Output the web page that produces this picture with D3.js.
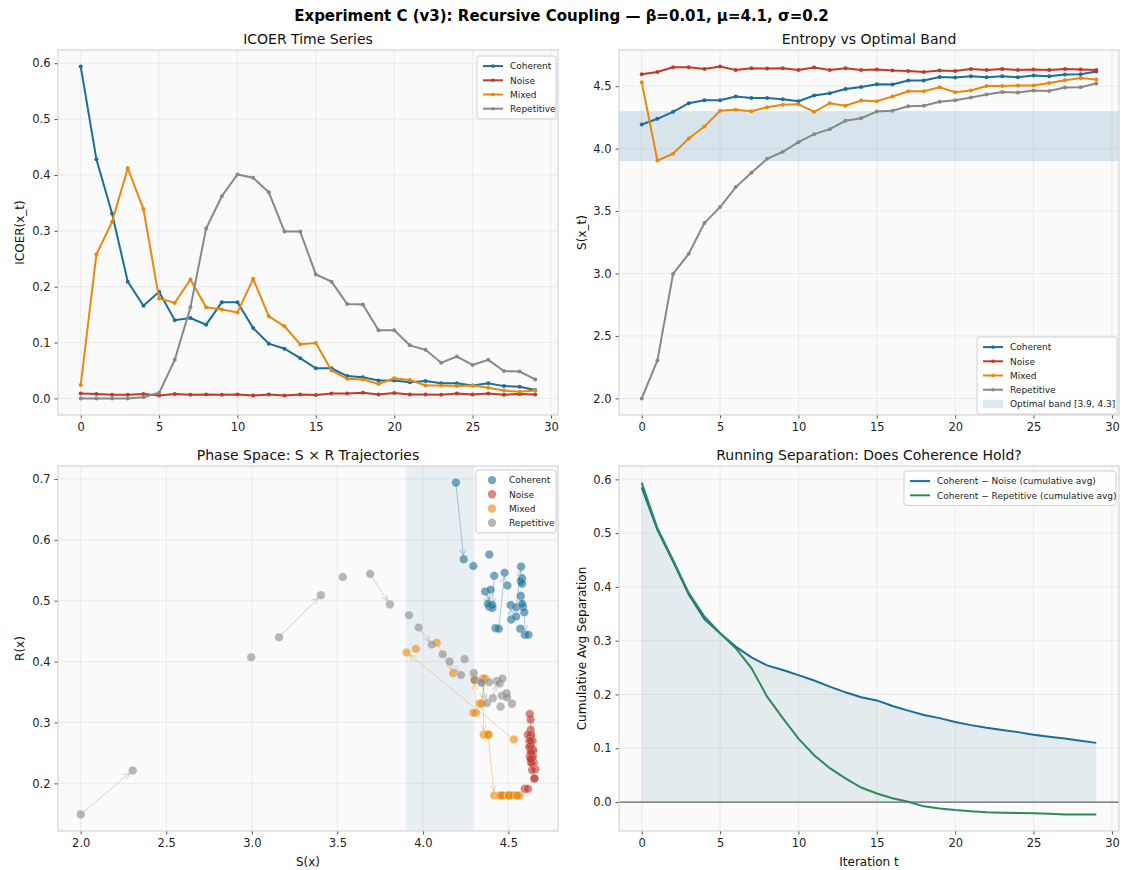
<!DOCTYPE html>
<html><head><meta charset="utf-8">
<script src="https://cdn.jsdelivr.net/npm/d3@7"></script>
<style>body{margin:0;background:#fff}svg{font-family:"DejaVu Sans",sans-serif}</style>
</head><body>
<svg id="c" width="1123" height="870"></svg>
<script>
const iterations = [0,1,2,3,4,5,6,7,8,9,10,11,12,13,14,15,16,17,18,19,20,21,22,23,24,25,26,27,28,29];
const seriesNames = ["Coherent","Noise","Mixed","Repetitive"];
const seriesColors = ["#1b6e98","#c0392b","#e8890c","#888888"];

// ICOER time series
const icoerCoherent = [0.594,0.428,0.331,0.209,0.166,0.191,0.140,0.144,0.132,0.172,0.172,0.126,0.098,0.089,0.072,0.054,0.054,0.040,0.038,0.032,0.032,0.029,0.031,0.027,0.027,0.023,0.027,0.022,0.021,0.015];
const icoerNoise = [0.009,0.008,0.0066,0.0066,0.008,0.005,0.008,0.0066,0.007,0.0066,0.007,0.005,0.007,0.005,0.007,0.006,0.009,0.009,0.010,0.007,0.0095,0.007,0.007,0.0066,0.009,0.007,0.009,0.0066,0.008,0.007];
const icoerMixed = [0.024,0.258,0.316,0.412,0.339,0.179,0.171,0.213,0.163,0.159,0.154,0.214,0.147,0.129,0.097,0.099,0.050,0.035,0.034,0.026,0.036,0.033,0.023,0.023,0.022,0.023,0.019,0.014,0.012,0.014];
const icoerRepetitive = [0.0,0.0,0.0,0.0,0.002,0.010,0.069,0.163,0.304,0.362,0.401,0.395,0.369,0.299,0.299,0.222,0.209,0.169,0.168,0.122,0.122,0.095,0.087,0.064,0.075,0.060,0.069,0.049,0.048,0.034];

// Entropy S(x_t)
const entCoherent = [4.193,4.239,4.295,4.364,4.388,4.388,4.417,4.406,4.406,4.396,4.380,4.425,4.444,4.478,4.494,4.516,4.513,4.545,4.545,4.574,4.569,4.580,4.572,4.580,4.572,4.585,4.580,4.593,4.596,4.617];
const entNoise = [4.596,4.614,4.652,4.652,4.638,4.657,4.630,4.644,4.641,4.644,4.630,4.649,4.630,4.644,4.630,4.633,4.625,4.622,4.614,4.625,4.622,4.638,4.630,4.638,4.630,4.633,4.630,4.638,4.633,4.630];
const entMixed = [4.532,3.905,3.959,4.081,4.177,4.303,4.311,4.300,4.332,4.351,4.356,4.295,4.364,4.343,4.385,4.380,4.417,4.460,4.460,4.492,4.452,4.465,4.502,4.502,4.505,4.505,4.526,4.548,4.566,4.553];
const entRepetitive = [2.0,2.304,2.997,3.159,3.404,3.532,3.692,3.807,3.919,3.975,4.052,4.116,4.156,4.223,4.244,4.297,4.303,4.340,4.343,4.375,4.388,4.409,4.433,4.454,4.449,4.465,4.462,4.489,4.492,4.521];
const optimalBand = [3.9, 4.3];

// R(x) values for phase space
const rCoherent = [0.694,0.568,0.557,0.515,0.490,0.576,0.541,0.488,0.493,0.518,0.495,0.455,0.454,0.546,0.525,0.469,0.493,0.474,0.489,0.556,0.454,0.537,0.532,0.528,0.508,0.490,0.495,0.481,0.444,0.444];
const rNoise = [0.191,0.191,0.208,0.208,0.242,0.223,0.261,0.253,0.270,0.244,0.276,0.234,0.305,0.255,0.288,0.280,0.314,0.270,0.280,0.244,0.260,0.234,0.253,0.242,0.261,0.234,0.270,0.222,0.250,0.240];
const rMixed = [0.272,0.415,0.421,0.431,0.381,0.370,0.316,0.370,0.331,0.372,0.280,0.316,0.372,0.331,0.280,0.280,0.180,0.180,0.180,0.180,0.180,0.180,0.180,0.180,0.180,0.180,0.180,0.180,0.180,0.180];
const rRepetitive = [0.149,0.221,0.407,0.440,0.509,0.539,0.544,0.494,0.476,0.456,0.428,0.412,0.400,0.378,0.404,0.381,0.370,0.367,0.365,0.332,0.366,0.340,0.368,0.326,0.364,0.372,0.344,0.348,0.341,0.331];

// Running separation (cumulative averages)
const sepNoise = [0.585,0.506,0.447,0.386,0.340,0.314,0.289,0.269,0.254,0.2455,0.236,0.226,0.2145,0.204,0.195,0.189,0.1786,0.170,0.162,0.156,0.149,0.143,0.138,0.134,0.130,0.125,0.1215,0.118,0.114,0.110];
const sepRepetitive = [0.594,0.509,0.450,0.389,0.345,0.314,0.286,0.249,0.196,0.156,0.118,0.087,0.063,0.044,0.027,0.016,0.007,0.0006,-0.008,-0.012,-0.015,-0.017,-0.019,-0.020,-0.0205,-0.021,-0.022,-0.023,-0.023,-0.023];

const iterTicks = [0,5,10,15,20,25,30];
const icoerTicks = [0.0,0.1,0.2,0.3,0.4,0.5,0.6];
const entTicks = [2.0,2.5,3.0,3.5,4.0,4.5];
const sTicks = [2.0,2.5,3.0,3.5,4.0,4.5];
const rTicks = [0.2,0.3,0.4,0.5,0.6,0.7];
const sepTicks = [0.0,0.1,0.2,0.3,0.4,0.5,0.6];

const svg = d3.select("#c");

function pad(ext){const r=ext[1]-ext[0];return [ext[0]-0.05*r, ext[1]+0.05*r];}

function panel(o){
  const g = svg.append("g").attr("transform",`translate(${o.x},${o.y})`);
  const x = d3.scaleLinear().domain(o.xd).range([0,o.w]);
  const y = d3.scaleLinear().domain(o.yd).range([o.h,0]);
  g.append("rect").attr("width",o.w).attr("height",o.h).attr("fill","#fafafa");
  const grid = g.append("g");
  o.xt.forEach(v=>{ if(v>=o.xd[0]&&v<=o.xd[1]) grid.append("line").attr("x1",x(v)).attr("x2",x(v)).attr("y1",0).attr("y2",o.h).attr("stroke","#e6e6e6").attr("stroke-width",0.8);});
  o.yt.forEach(v=>{ if(v>=o.yd[0]&&v<=o.yd[1]) grid.append("line").attr("y1",y(v)).attr("y2",y(v)).attr("x1",0).attr("x2",o.w).attr("stroke","#e6e6e6").attr("stroke-width",0.8);});
  const content = g.append("g");
  const xa = g.append("g").attr("transform",`translate(0,${o.h})`)
    .call(d3.axisBottom(x).tickValues(o.xt.filter(v=>v>=o.xd[0]&&v<=o.xd[1])).tickFormat(o.xf).tickSizeOuter(0).tickSize(3.5).tickPadding(4));
  const ya = g.append("g")
    .call(d3.axisLeft(y).tickValues(o.yt.filter(v=>v>=o.yd[0]&&v<=o.yd[1])).tickFormat(o.yf).tickSizeOuter(0).tickSize(3.5).tickPadding(4));
  [xa,ya].forEach(a=>{a.select(".domain").remove();a.selectAll("line").attr("stroke","#555");a.selectAll("text").attr("font-size",11.5).attr("fill","#222").attr("font-family","DejaVu Sans");});
  g.append("rect").attr("width",o.w).attr("height",o.h).attr("fill","none").attr("stroke","#cccccc").attr("stroke-width",1);
  g.append("text").attr("x",o.w/2).attr("y",-6).attr("text-anchor","middle").attr("font-size",14).attr("fill","#111").text(o.title);
  if(o.xl) g.append("text").attr("x",o.w/2).attr("y",o.h+35).attr("text-anchor","middle").attr("font-size",12).attr("fill","#111").text(o.xl);
  if(o.yl) g.append("text").attr("transform",`translate(${-o.ylOff},${o.h/2}) rotate(-90)`).attr("text-anchor","middle").attr("font-size",12).attr("fill","#111").text(o.yl);
  return {g,content,x,y};
}

function legend(g, x0, y0, w, items, rowH){
  const lg = g.append("g").attr("transform",`translate(${x0},${y0})`);
  lg.append("rect").attr("width",w).attr("height",items.length*rowH+6).attr("rx",2.5).attr("fill","#fff").attr("fill-opacity",0.85).attr("stroke","#d0d0d0");
  items.forEach((it,i)=>{
    const cy = 3+rowH*(i+0.5);
    if(it.type==="line"){
      lg.append("line").attr("x1",6).attr("x2",26).attr("y1",cy).attr("y2",cy).attr("stroke",it.color).attr("stroke-width",2);
      if(it.marker) lg.append("circle").attr("cx",16).attr("cy",cy).attr("r",1.8).attr("fill",it.color);
    } else if(it.type==="dot"){
      lg.append("circle").attr("cx",16).attr("cy",cy).attr("r",4.2).attr("fill",it.color).attr("fill-opacity",0.6);
    } else {
      lg.append("rect").attr("x",6).attr("y",cy-4).attr("width",20).attr("height",8).attr("fill",it.color).attr("fill-opacity",it.op);
    }
    lg.append("text").attr("x",33).attr("y",cy+3.2).attr("font-size",9).attr("fill","#222").text(it.label);
  });
}

const fmt1 = d3.format(".1f");
const itDom = pad(d3.extent(iterations));

svg.append("text").attr("x",561.5).attr("y",21).attr("text-anchor","middle").attr("font-size",15).attr("font-weight","bold").attr("fill","#000")
  .text("Experiment C (v3): Recursive Coupling — β=0.01, μ=4.1, σ=0.2");

// Panel 1
const icoer = [icoerCoherent,icoerNoise,icoerMixed,icoerRepetitive];
const p1 = panel({x:58,y:50,w:500,h:365,xd:itDom,yd:pad([0,d3.max(icoer.flat())]),xt:iterTicks,yt:icoerTicks,xf:d3.format("d"),yf:fmt1,title:"ICOER Time Series",yl:"ICOER(x_t)",ylOff:34});
icoer.forEach((s,k)=>{
  const line = d3.line().x((d,i)=>p1.x(iterations[i])).y(d=>p1.y(d));
  p1.content.append("path").attr("d",line(s)).attr("fill","none").attr("stroke",seriesColors[k]).attr("stroke-width",2);
  p1.content.selectAll(null).data(s).enter().append("circle").attr("cx",(d,i)=>p1.x(iterations[i])).attr("cy",d=>p1.y(d)).attr("r",2).attr("fill",seriesColors[k]);
});
legend(p1.g, 419, 6, 79, seriesNames.map((n,k)=>({type:"line",marker:true,color:seriesColors[k],label:n})), 14.2);

// Panel 2
const ent = [entCoherent,entNoise,entMixed,entRepetitive];
const p2 = panel({x:619,y:50,w:500,h:365,xd:itDom,yd:pad(d3.extent(ent.flat())),xt:iterTicks,yt:entTicks,xf:d3.format("d"),yf:fmt1,title:"Entropy vs Optimal Band",yl:"S(x_t)",ylOff:33});
p2.content.append("rect").attr("x",0).attr("width",500).attr("y",p2.y(optimalBand[1])).attr("height",p2.y(optimalBand[0])-p2.y(optimalBand[1])).attr("fill","#1b6e98").attr("fill-opacity",0.15);
ent.forEach((s,k)=>{
  const line = d3.line().x((d,i)=>p2.x(iterations[i])).y(d=>p2.y(d));
  p2.content.append("path").attr("d",line(s)).attr("fill","none").attr("stroke",seriesColors[k]).attr("stroke-width",2);
  p2.content.selectAll(null).data(s).enter().append("circle").attr("cx",(d,i)=>p2.x(iterations[i])).attr("cy",d=>p2.y(d)).attr("r",2).attr("fill",seriesColors[k]);
});
legend(p2.g, 358, 287, 140, seriesNames.map((n,k)=>({type:"line",marker:true,color:seriesColors[k],label:n})).concat([{type:"band",color:"#1b6e98",op:0.15,label:"Optimal band [3.9, 4.3]"}]), 14.2);

// Panel 3
const rs = [rCoherent,rNoise,rMixed,rRepetitive];
const p3 = panel({x:58,y:466,w:500,h:365,xd:pad(d3.extent(ent.flat())),yd:pad(d3.extent(rs.flat())),xt:sTicks,yt:rTicks,xf:fmt1,yf:fmt1,title:"Phase Space: S × R Trajectories",xl:"S(x)",yl:"R(x)",ylOff:34});
p3.content.append("rect").attr("x",p3.x(optimalBand[0])).attr("width",p3.x(optimalBand[1])-p3.x(optimalBand[0])).attr("y",0).attr("height",365).attr("fill","#1b6e98").attr("fill-opacity",0.08);
ent.forEach((s,k)=>{
  const col = seriesColors[k];
  const r = rs[k];
  const ag = p3.content.append("g");
  iterations.forEach((t,i)=>{
    if(i%3!==0 || i+1>=iterations.length) return;
    const x1=p3.x(s[i]), y1=p3.y(r[i]), x2=p3.x(s[i+1]), y2=p3.y(r[i+1]);
    const dx=x2-x1, dy=y2-y1, L=Math.hypot(dx,dy);
    if(L<6) return;
    const ux=dx/L, uy=dy/L;
    const sx=x1+ux*3, sy=y1+uy*3, ex=x2-ux*4, ey=y2-uy*4;
    ag.append("line").attr("x1",sx).attr("y1",sy).attr("x2",ex).attr("y2",ey).attr("stroke",col).attr("stroke-opacity",0.35).attr("stroke-width",1);
    const a=6, h=3;
    ag.append("path").attr("d",`M${ex-ux*a-uy*h},${ey-uy*a+ux*h}L${ex},${ey}L${ex-ux*a+uy*h},${ey-uy*a-ux*h}`).attr("fill","none").attr("stroke",col).attr("stroke-opacity",0.35).attr("stroke-width",1);
  });
  p3.content.selectAll(null).data(s).enter().append("circle").attr("cx",d=>p3.x(d)).attr("cy",(d,i)=>p3.y(r[i])).attr("r",4.3)
    .attr("fill",col).attr("fill-opacity",0.6).attr("stroke","#fff").attr("stroke-opacity",0.5).attr("stroke-width",0.5);
});
legend(p3.g, 418, 4, 80, seriesNames.map((n,k)=>({type:"dot",color:seriesColors[k],label:n})), 14.2);

// Panel 4
const p4 = panel({x:619,y:466,w:500,h:365,xd:itDom,yd:pad(d3.extent(sepNoise.concat(sepRepetitive))),xt:iterTicks,yt:sepTicks,xf:d3.format("d"),yf:fmt1,title:"Running Separation: Does Coherence Hold?",xl:"Iteration t",yl:"Cumulative Avg Separation",ylOff:33});
const area = d3.area().x((d,i)=>p4.x(iterations[i])).y0(p4.y(0)).y1(d=>p4.y(d));
p4.content.append("path").attr("d",area(sepNoise)).attr("fill","#1b6e98").attr("fill-opacity",0.1);
p4.content.append("line").attr("x1",0).attr("x2",500).attr("y1",p4.y(0)).attr("y2",p4.y(0)).attr("stroke","#666").attr("stroke-width",1.2);
const l4 = d3.line().x((d,i)=>p4.x(iterations[i])).y(d=>p4.y(d));
p4.content.append("path").attr("d",l4(sepNoise)).attr("fill","none").attr("stroke","#1b6e98").attr("stroke-width",2);
p4.content.append("path").attr("d",l4(sepRepetitive)).attr("fill","none").attr("stroke","#2e8b57").attr("stroke-width",2);
legend(p4.g, 285, 5, 212, [{type:"line",color:"#1b6e98",label:"Coherent − Noise (cumulative avg)"},{type:"line",color:"#2e8b57",label:"Coherent − Repetitive (cumulative avg)"}], 14.2);
</script>
</body></html>
